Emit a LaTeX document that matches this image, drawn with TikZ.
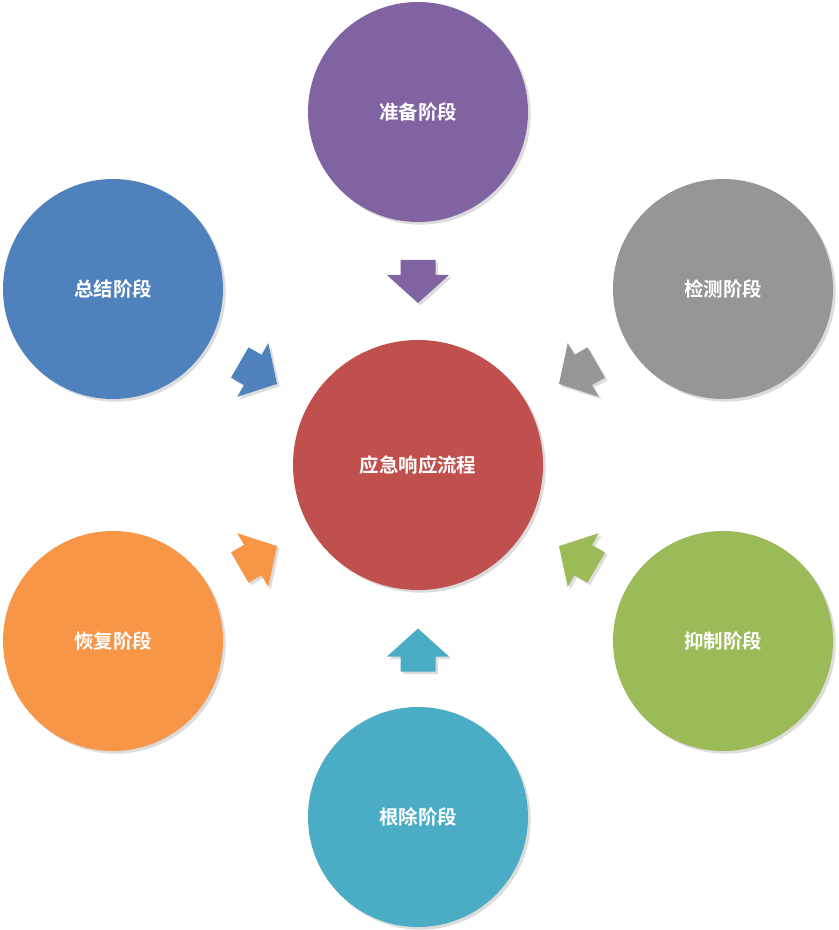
\documentclass[tikz,border=0pt]{standalone}
\usepackage{fontspec}
\newfontfamily\cjk{Noto Sans CJK SC}[BoldFont={Noto Sans CJK SC Bold}]
\usetikzlibrary{shadows}
\definecolor{cred}{HTML}{C0504D}
\definecolor{cpurple}{HTML}{8064A2}
\definecolor{cgray}{HTML}{969696}
\definecolor{cgreen}{HTML}{9BBB59}
\definecolor{cteal}{HTML}{4BACC6}
\definecolor{corange}{HTML}{F79646}
\definecolor{cblue}{HTML}{4F81BD}
\definecolor{cshadow}{HTML}{DCDCDC}
\tikzset{
  phase/.style={circle, draw=none, minimum size=165pt, inner sep=0pt,
    text=white, font=\cjk\bfseries\fontsize{14.6}{17}\selectfont,
    drop shadow={shadow xshift=2pt, shadow yshift=-2pt, fill=cshadow, opacity=1}},
  hub/.style={phase, minimum size=187.5pt},
}
\newcommand\blockarrow[4]{%
  \begin{scope}[shift={(#1+2.5,#2+2.5)},rotate=#3]
    \fill[cshadow] (-21.5,-17.5) -- (-6.5,-17.5) -- (-6.5,-31) -- (21.5,0) -- (-6.5,31) -- (-6.5,17.5) -- (-21.5,17.5) -- cycle;
  \end{scope}
  \begin{scope}[shift={(#1,#2)},rotate=#3]
    \fill[#4] (-21.5,-17.5) -- (-6.5,-17.5) -- (-6.5,-31) -- (21.5,0) -- (-6.5,31) -- (-6.5,17.5) -- (-21.5,17.5) -- cycle;
  \end{scope}}
\begin{document}
\begin{tikzpicture}[x=0.75pt,y=-0.75pt]
\useasboundingbox[fill=white] (0,0) rectangle (838,930);
\node[hub, fill=cred] (c) at (418,465) {应急响应流程};
\node[phase, fill=cpurple] (p1) at (418,112) {准备阶段};
\node[phase, fill=cgray] (p2) at (723,289) {检测阶段};
\node[phase, fill=cgreen] (p3) at (723,641) {抑制阶段};
\node[phase, fill=cteal] (p4) at (418,817) {根除阶段};
\node[phase, fill=corange] (p5) at (113,641) {恢复阶段};
\node[phase, fill=cblue] (p6) at (113,289) {总结阶段};
\blockarrow{418}{281.5}{-90}{cpurple}
\blockarrow{577.6}{373.2}{210}{cgray}
\blockarrow{577.6}{556.8}{150}{cgreen}
\blockarrow{418}{650}{90}{cteal}
\blockarrow{258.4}{556.8}{30}{corange}
\blockarrow{258.4}{373.2}{-30}{cblue}
\end{tikzpicture}
\end{document}
